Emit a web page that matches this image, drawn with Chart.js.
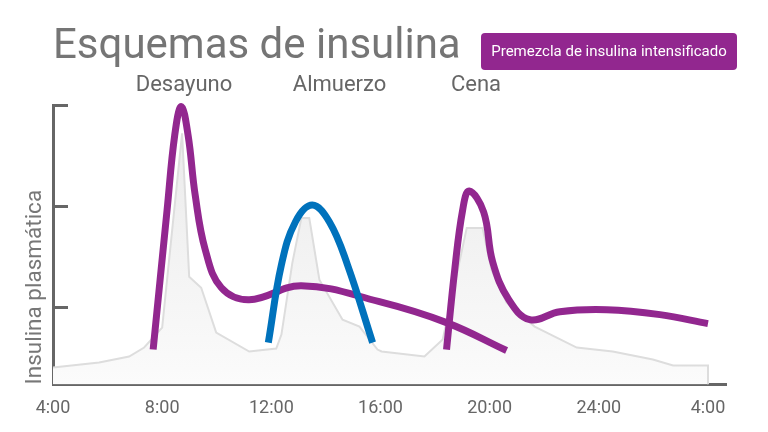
<!DOCTYPE html>
<html><head><meta charset="utf-8">
<script src="https://cdn.jsdelivr.net/npm/chart.js@4.4.1/dist/chart.umd.min.js"></script>
<style>html,body{margin:0;padding:0;background:#fff;}</style>
</head><body>
<canvas id="c" width="768" height="432"></canvas>
<script>
// ---- text ----
const chartTitle = 'Esquemas de insulina';
const yAxisTitle = 'Insulina plasmática';
const seriesNames = ['Premezcla de insulina intensificado', 'Insulina prandial', 'Insulina endógena'];
const mealLabels = ['Desayuno', 'Almuerzo', 'Cena'];
const mealHours = [8.8, 14.5, 19.5];
// ---- axes ----
const xTickHours = [4, 8, 12, 16, 20, 24, 28];
const xTickLabels = ['4:00', '8:00', '12:00', '16:00', '20:00', '24:00', '4:00'];
const yTickValues = [78, 179, 280];
// ---- series (hour of day, plasma insulin level) ----
const endoHours  = [4, 5.69, 6.79, 7.34, 8.0, 8.73, 8.99, 9.43, 9.98, 11.19, 12.18, 12.37, 12.77, 13.10, 13.39, 13.76, 14.61, 15.23, 15.89, 16.04, 17.61, 18.28, 19.16, 19.74, 20.07, 20.62, 21.65, 23.19, 24.51, 25.98, 26.72, 28, 28];
const endoValues = [17, 22, 28, 37, 57, 252, 108, 97, 52, 33, 36, 50, 122, 167, 167, 105, 65, 58, 35, 33, 28, 45, 157, 157, 115, 82, 58, 37, 33, 25, 19, 19, 0];
const premixAmHours  = [7.67, 8.18, 8.46, 8.70, 8.95, 9.21, 9.58, 10.17, 11.19, 13.10, 15.96, 18.42, 20.62];
const premixAmValues = [35, 175, 250, 279, 250, 190, 135, 97, 85, 99, 83, 62, 34];
const premixPmHours  = [18.42, 18.72, 19.01, 19.25, 19.78, 20.11, 20.70, 21.47, 22.57, 24.29, 26.24, 28.0];
const premixPmValues = [35, 115, 175, 194, 173, 123, 85, 65, 73, 75, 70, 61];
const bolusHours  = [11.89, 12.37, 12.88, 13.50, 14.13, 14.79, 15.71];
const bolusValues = [42, 120, 163, 180, 163, 120, 42];

const PURPLE = '#92278f', BLUE = '#0072bc', AXIS = '#666666';
const FONT = 'Roboto';
function pts(xs, ys) { return xs.map((x, i) => ({ x: x, y: ys[i] })); }

function grayFill(context) {
  const ca = context.chart.chartArea;
  if (!ca) return '#f2f2f2';
  const g = context.chart.ctx.createLinearGradient(0, ca.top, 0, ca.bottom);
  g.addColorStop(0, '#e9e9e9');
  g.addColorStop(1, '#fbfbfb');
  return g;
}

const decor = {
  id: 'decor',
  afterDraw(chart) {
    const c = chart.ctx, ca = chart.chartArea;
    const xs = chart.scales.x, ys = chart.scales.y;
    c.save();
    // inward y tick marks
    c.strokeStyle = AXIS; c.lineWidth = 3;
    yTickValues.forEach(v => {
      const py = Math.round(ys.getPixelForValue(v)) + 0.5;
      c.beginPath(); c.moveTo(ca.left, py); c.lineTo(ca.left + 15, py); c.stroke();
    });
    // meal labels
    c.fillStyle = '#666666';
    c.font = '22px ' + FONT;
    c.textAlign = 'center'; c.textBaseline = 'middle';
    mealLabels.forEach((t, i) => c.fillText(t, xs.getPixelForValue(mealHours[i]), ca.top - 20));
    // legend box
    const bx = 481, by = 33, bw = 256, bh = 37;
    c.fillStyle = PURPLE;
    c.beginPath(); c.roundRect(bx, by, bw, bh, 4); c.fill();
    c.fillStyle = '#ffffff';
    c.font = '15px ' + FONT;
    c.fillText(seriesNames[0], bx + bw / 2, by + bh / 2 + 1);
    c.restore();
  }
};

const lineBase = { borderWidth: 7, pointRadius: 0, fill: false, tension: 0.4, borderCapStyle: 'butt', borderJoinStyle: 'round', clip: false };

new Chart(document.getElementById('c'), {
  type: 'line',
  data: {
    datasets: [
      Object.assign({ label: seriesNames[1], data: pts(bolusHours, bolusValues), borderColor: BLUE, order: 0 }, lineBase),
      Object.assign({ label: seriesNames[0], data: pts(premixPmHours, premixPmValues), borderColor: PURPLE, order: 1 }, lineBase),
      Object.assign({ label: seriesNames[0], data: pts(premixAmHours, premixAmValues), borderColor: PURPLE, order: 2 }, lineBase),
      { label: seriesNames[2], data: pts(endoHours, endoValues), borderColor: '#dddddd', borderWidth: 2, backgroundColor: grayFill, fill: 'origin', tension: 0, pointRadius: 0, order: 3 }
    ]
  },
  options: {
    responsive: false, animation: false, devicePixelRatio: 1,
    layout: { padding: { left: 18, right: 42, top: 0, bottom: 0 } },
    plugins: {
      legend: { display: false },
      tooltip: { enabled: false },
      title: { display: true, text: chartTitle, align: 'start', fullSize: false, color: '#757575',
               font: { family: FONT, size: 42, weight: '400' }, padding: { top: 22, bottom: 33 } }
    },
    scales: {
      x: {
        type: 'linear', min: 4, max: 28.66,
        grid: { display: false, drawTicks: false },
        border: { display: true, color: AXIS, width: 3 },
        afterBuildTicks: s => { s.ticks = xTickHours.map(v => ({ value: v })); },
        ticks: { padding: 13, color: '#666666', font: { family: FONT, size: 18 }, autoSkip: false, maxRotation: 0,
                 callback: (v, i) => xTickLabels[i] }
      },
      y: {
        type: 'linear', min: 0, max: 280,
        grid: { display: false, drawTicks: false },
        border: { display: true, color: AXIS, width: 3 },
        afterBuildTicks: s => { s.ticks = yTickValues.map(v => ({ value: v })); },
        ticks: { display: false },
        title: { display: true, text: yAxisTitle, align: 'start', color: '#777777', font: { family: FONT, size: 22.5 }, padding: { top: 4, bottom: 4 } }
      }
    }
  },
  plugins: [decor]
});
</script>
</body></html>
